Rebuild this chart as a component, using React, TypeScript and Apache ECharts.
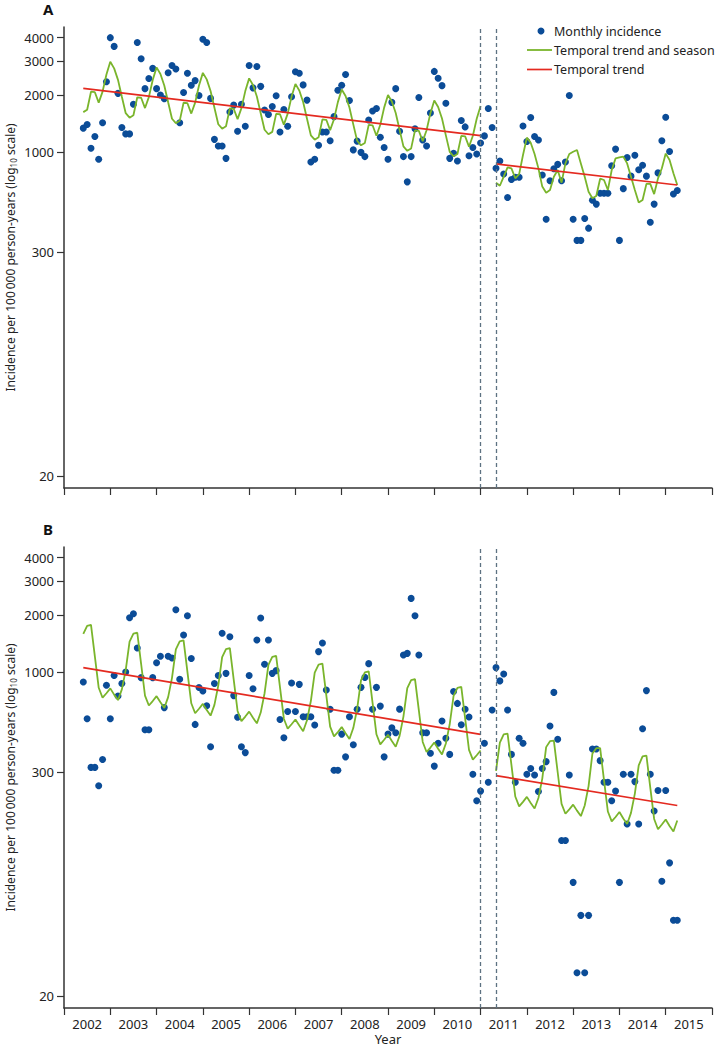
import React, { useEffect, useRef } from 'react';
import * as echarts from 'echarts';

// ---------- data ----------
const years = ['2002', '2003', '2004', '2005', '2006', '2007', '2008', '2009', '2010', '2011', '2012', '2013', '2014', '2015'];
const yTicks = [20, 300, 1000, 2000, 3000, 4000];
// first monthly observation: June 2002 (index 0); last: April 2015 (index 154)
const startYear = 2002;
const startMonth = 6;
// interruption period (Jan 2011 - May 2011)
const breakLines = [2011.0, 2011.3333];
// model segments (month indices)
const seg1Start = 0;
const seg2Start = 107;
const seg1End = 103;
const seg2End = 154;

// Panel A
const aIncidence = [
  1340, 1400, 1050, 1210, 920, 1430, 2350, 4000, 3600, 2040,
  1350, 1250, 1250, 1790, 3770, 3100, 2160, 2440, 2760, 2160,
  2000, 1910, 2620, 2860, 2740, 1430, 2060, 2600, 2250, 2380,
  1990, 3920, 3770, 1920, 1170, 1080, 1080, 930, 1630, 1770,
  1290, 1790, 1370, 2860, 2180, 2820, 2220, 1670, 1580, 1740,
  1980, 1280, 1680, 1370, 1960, 2650, 2600, 2260, 1880, 890,
  920, 1090, 1280, 1280, 1150, 1540, 2120, 2250, 2560, 1870,
  1030, 1145, 1000, 950, 1480, 1650, 1700, 1200, 1060, 920,
  1830, 2160, 1290, 950, 700, 950, 1330, 1940, 1160, 1080,
  1610, 2660, 2450, 2240, 1810, 930, 990, 900, 1470, 1360,
  960, 1060, 980, 1120, 1220, 1700, 1350, 825, 900, 770,
  580, 720, 740, 740, 1375, 1140, 1525, 1210, 1160, 760,
  445, 710, 820, 865, 710, 890, 1990, 445, 345, 345,
  450, 400, 560, 535, 610, 610, 610, 850, 1040, 345,
  645, 940, 750, 965, 810, 855, 750, 430, 535, 780,
  1150, 1530, 1010, 605, 630,
];
const aSeason1 = [
  1626, 1674, 2081, 2069, 1825, 2084, 2562, 2987, 2759, 2401, 1958, 1605,
  1521, 1565, 1946, 1935, 1708, 1950, 2396, 2793, 2580, 2245, 1832, 1501,
  1423, 1464, 1821, 1811, 1598, 1824, 2242, 2613, 2415, 2101, 1714, 1404,
  1331, 1370, 1703, 1694, 1494, 1706, 2097, 2445, 2258, 1965, 1603, 1314,
  1245, 1281, 1593, 1585, 1398, 1596, 1962, 2287, 2113, 1838, 1500, 1229,
  1165, 1199, 1490, 1482, 1308, 1493, 1835, 2139, 1976, 1719, 1403, 1150,
  1089, 1121, 1394, 1387, 1223, 1397, 1717, 2001, 1849, 1609, 1313, 1075,
  1019, 1049, 1305, 1297, 1145, 1307, 1606, 1872, 1729, 1505, 1228, 1006,
  954, 981, 1220, 1213, 1071, 1223, 1502, 1751,
];
const aSeason2 = [
  693, 668, 745, 834, 824, 731, 769, 968, 1195, 1124,
  980, 824, 661, 614, 634, 745, 808, 693, 875, 980,
  1007, 1029, 875, 745, 621, 574, 590, 727, 716, 634,
  808, 930, 942, 950, 875, 745, 634, 545, 562, 683,
  683, 604, 730, 825, 985, 912, 776, 674,
];
const aTrend1 = [2168, 1223];
const aTrend2 = [869, 674];

// Panel B
const bIncidence = [
  890, 571, 317, 317, 254, 349, 855, 571, 962, 751,
  873, 1004, 1936, 2032, 1343, 938, 500, 500, 938, 1124,
  1214, 653, 1214, 1189, 2133, 919, 1571, 1983, 1183, 533,
  832, 798, 668, 407, 873, 962, 1603, 988, 1538, 755,
  581, 407, 379, 962, 821, 1479, 1928, 1102, 1479, 988,
  1021, 566, 454, 623, 879, 623, 865, 585, 585, 585,
  529, 1285, 1425, 808, 640, 306, 306, 474, 360, 585,
  417, 640, 834, 941, 1111, 640, 834, 665, 360, 474,
  511, 482, 641, 1233, 1258, 2445, 1983, 1233, 482, 482,
  376, 322, 424, 556, 451, 371, 794, 687, 531, 640,
  583, 292, 212, 238, 424, 265, 634, 1059, 902, 980,
  634, 371, 265, 451, 424, 292, 313, 289, 237, 313,
  340, 523, 785, 445, 131, 131, 289, 79, 26.5, 53,
  26.5, 53, 396, 396, 344, 265, 265, 212, 238, 79,
  292, 160, 292, 267, 160, 506, 802, 292, 187, 240,
  80, 240, 100, 50, 50,
];
const bSeason1 = [
  1591, 1754, 1773, 1214, 830, 736, 777, 824, 764, 715, 814, 1028,
  1448, 1598, 1614, 1106, 755, 670, 707, 750, 696, 651, 741, 936,
  1319, 1455, 1470, 1007, 688, 610, 644, 683, 634, 593, 675, 853,
  1201, 1325, 1339, 917, 627, 555, 586, 622, 577, 540, 615, 777,
  1094, 1206, 1219, 835, 571, 506, 534, 566, 526, 491, 560, 707,
  996, 1099, 1110, 760, 519, 461, 486, 516, 479, 447, 510, 644,
  907, 1000, 1011, 692, 473, 419, 443, 470, 436, 407, 464, 586,
  826, 911, 921, 631, 431, 382, 403, 428, 397, 371, 423, 534,
  752, 829, 838, 574, 392, 348, 367, 389,
];
const bSeason2 = [
  304,
  428, 472, 477, 327, 223, 198, 209, 222, 206, 193, 219, 277,
  405, 435, 438, 298, 204, 181, 191, 202, 188, 176, 200, 253,
  375, 400, 400, 272, 186, 165, 174, 185, 171, 160, 183, 231,
  325, 362, 366, 248, 170, 150, 159, 169, 156, 146, 167,
];
const bTrend1 = [1058, 473];
const bTrend2 = [287, 200];

// ---------- helpers ----------
const monthX = (i: number) => startYear + (startMonth - 1 + i) / 12;
const seriesFrom = (vals: number[], start: number) => vals.map((v, k) => [monthX(start + k), v]);
const trendFrom = (vals: number[], s: number, e: number) => [[monthX(s), vals[0]], [monthX(e), vals[1]]];

const FONT = 'Noto Sans';
const AXIS = '#333333';
const DOT = '#0b4c97';
const GREEN = '#7ab52c';
const RED = '#e42a20';
const DASH = '#5d7282';

const yAxisDef = (gridIndex: number) => ({
  type: 'log',
  gridIndex,
  logBase: 10,
  min: 17.3,
  max: 4550,
  axisLine: { show: true, lineStyle: { color: AXIS, width: 1.5 } },
  axisTick: { show: true, length: 7, customValues: yTicks, lineStyle: { color: AXIS, width: 1.2 } },
  axisLabel: {
    customValues: yTicks,
    formatter: (v: number) => String(Math.round(v)),
    fontSize: 13,
    color: '#222',
    margin: 10,
    fontFamily: FONT,
  },
  splitLine: { show: false },
  name: '{a|Incidence per 100\u2009000 person-years (log}{s|10}{a| scale)}',
  nameLocation: 'middle',
  nameGap: 47,
  nameMoveOverlap: false,
  nameRotate: 90,
  nameTextStyle: {
    rich: {
      a: { fontSize: 12, lineHeight: 14, fontFamily: FONT, color: '#222' },
      s: { fontSize: 8, lineHeight: 8, verticalAlign: 'bottom', fontFamily: FONT, color: '#222' },
    },
  },
});

const xValueAxis = (gridIndex: number) => ({
  type: 'value',
  gridIndex,
  min: 2002,
  max: 2016,
  interval: 1,
  position: 'bottom',
  axisLine: { show: true, onZero: false, lineStyle: { color: AXIS, width: 1.5 } },
  axisTick: { show: true, length: 7, lineStyle: { color: AXIS, width: 1.2 } },
  axisLabel: { show: false },
  splitLine: { show: false },
});

const panelSeries = (
  xi: number,
  inc: number[],
  s1: number[],
  s2: number[],
  t1: number[],
  t2: number[],
) => [
  {
    type: 'scatter',
    xAxisIndex: xi,
    yAxisIndex: xi,
    data: seriesFrom(inc, 0),
    symbolSize: 7,
    itemStyle: { color: DOT, opacity: 1 },
    z: 2,
    markLine: {
      silent: true,
      symbol: ['none', 'none'],
      label: { show: false },
      lineStyle: { type: [4, 3], color: DASH, width: 1.3 },
      data: breakLines.map((b) => ({ xAxis: b })),
    },
  },
  ...[seriesFrom(s1, seg1Start), seriesFrom(s2, seg2Start)].map((d) => ({
    type: 'line',
    xAxisIndex: xi,
    yAxisIndex: xi,
    data: d,
    showSymbol: false,
    lineStyle: { color: GREEN, width: 1.8 },
    z: 3,
  })),
  ...[trendFrom(t1, seg1Start, seg1End), trendFrom(t2, seg2Start, seg2End)].map((d) => ({
    type: 'line',
    xAxisIndex: xi,
    yAxisIndex: xi,
    data: d,
    showSymbol: false,
    lineStyle: { color: RED, width: 1.7 },
    z: 4,
  })),
];

export default function App() {
  const ref = useRef<HTMLDivElement>(null);
  useEffect(() => {
    if (!ref.current) return;
    const chart = echarts.init(ref.current, undefined, { renderer: 'svg' });
    const option: any = {
      animation: false,
      backgroundColor: '#ffffff',
      textStyle: { fontFamily: FONT },
      grid: [
        { left: 64, top: 27, width: 648, height: 461, containLabel: false, outerBoundsMode: 'none' },
        { left: 64, top: 547, width: 648, height: 461, containLabel: false, outerBoundsMode: 'none' },
      ],
      xAxis: [
        xValueAxis(0),
        xValueAxis(1),
        {
          type: 'category',
          gridIndex: 1,
          position: 'bottom',
          data: years,
          boundaryGap: true,
          axisLine: { show: false },
          axisTick: { show: false },
          axisLabel: { interval: 0, fontSize: 13, color: '#222', margin: 9, fontFamily: FONT },
          splitLine: { show: false },
          name: 'Year',
          nameLocation: 'middle',
          nameGap: 24,
          nameMoveOverlap: false,
          nameTextStyle: { fontSize: 13, color: '#222', fontFamily: FONT },
        },
      ],
      yAxis: [yAxisDef(0), yAxisDef(1)],
      series: [
        ...panelSeries(0, aIncidence, aSeason1, aSeason2, aTrend1, aTrend2),
        ...panelSeries(1, bIncidence, bSeason1, bSeason2, bTrend1, bTrend2),
      ],
      graphic: [
        { type: 'text', x: 43, y: 1, style: { text: 'A', font: `bold 15px "${FONT}"`, fill: '#111' } },
        { type: 'text', x: 43, y: 521, style: { text: 'B', font: `bold 15px "${FONT}"`, fill: '#111' } },
        { type: 'circle', shape: { cx: 541, cy: 31, r: 3.5 }, style: { fill: DOT } },
        { type: 'line', shape: { x1: 527, y1: 50, x2: 552, y2: 50 }, style: { stroke: GREEN, lineWidth: 1.8 } },
        { type: 'line', shape: { x1: 527, y1: 69.5, x2: 552, y2: 69.5 }, style: { stroke: RED, lineWidth: 1.7 } },
        { type: 'text', x: 554, y: 31, style: { text: 'Monthly incidence', font: `12.5px "${FONT}"`, fill: '#222', verticalAlign: 'middle' } },
        { type: 'text', x: 554, y: 50, style: { text: 'Temporal trend and season', font: `12.5px "${FONT}"`, fill: '#222', verticalAlign: 'middle' } },
        { type: 'text', x: 554, y: 69.5, style: { text: 'Temporal trend', font: `12.5px "${FONT}"`, fill: '#222', verticalAlign: 'middle' } },
      ],
    };
    chart.setOption(option);
    return () => chart.dispose();
  }, []);
  return <div ref={ref} style={{ position: 'fixed', left: 0, top: 0, width: 715, height: 1049, background: '#fff' }} />;
}
